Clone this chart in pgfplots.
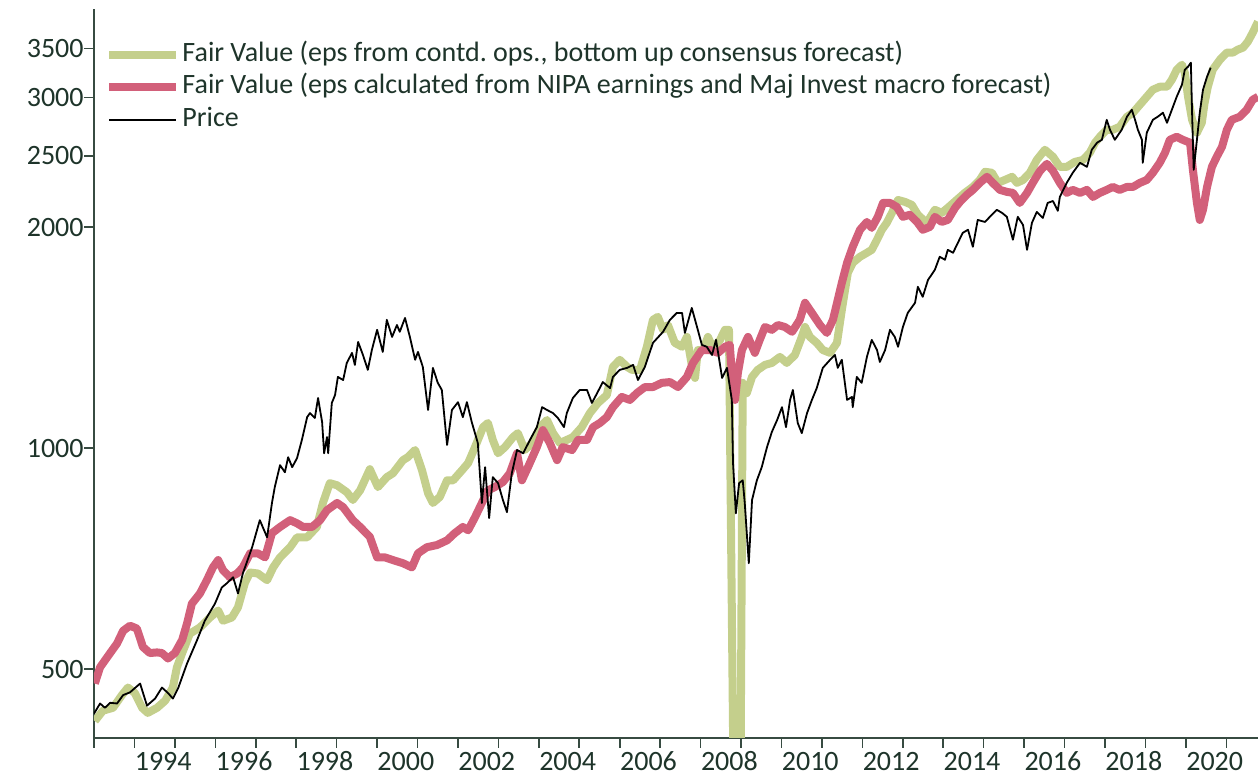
\documentclass[border=0pt]{standalone}
\usepackage{pgfplots}
\pgfplotsset{compat=1.18}
\usepackage{fontspec}
\setmainfont{Carlito}
\definecolor{fvgreen}{RGB}{196,207,140}
\definecolor{fvred}{RGB}{210,96,122}
\definecolor{axcol}{RGB}{55,75,65}
\definecolor{txtcol}{RGB}{30,52,42}
\begin{document}
\begin{tikzpicture}
\useasboundingbox (0,0) rectangle (629pt,388.5pt);
\begin{axis}[
  at={(47pt,19.5pt)}, anchor=south west,
  scale only axis, width=582pt, height=364.5pt,
  xmin=1993, xmax=2021.78,
  ymode=log, ymin=403, ymax=3963,
  axis x line=bottom, axis y line=left,
  axis line style={-, axcol, line width=0.8pt},
  tick style={axcol, line width=0.8pt},
  tick align=outside,
  major tick length=5pt,
  xtick={1993,...,2021},
  xticklabels={,1994,,1996,,1998,,2000,,2002,,2004,,2006,,2008,,2010,,2012,,2014,,2016,,2018,,2020,},
  ytick={500,1000,2000,2500,3000,3500},
  yticklabels={500,1000,2000,2500,3000,3500},
  minor tick num=0,
  xticklabel style={font=\fontsize{14}{16}\selectfont, text=txtcol, anchor=north west, inner sep=0pt, yshift=-1.75pt},
  yticklabel style={font=\fontsize{14}{16}\selectfont, text=txtcol, anchor=east, inner sep=0pt},
  /pgf/number format/assume math mode=true,
  legend style={at={(0.0095,0.959)}, anchor=north west, draw=none, fill=none,
    font=\fontsize{14}{16}\selectfont, text=txtcol, inner sep=0pt, row sep=0.75pt,
    nodes={inner sep=1pt, text height=10pt, text depth=3.5pt},
    /tikz/every even column/.append style={column sep=8.5pt}},
  legend cell align=left,
  legend image code/.code={\draw[#1] (0pt,0pt) -- (33.5pt,0pt);},
  line join=round,
]
\addplot[fvgreen, line width=4pt] coordinates {
(1993.02,425)(1993.22,439)(1993.47,443)(1993.69,461)(1993.84,472)(1994.01,464)(1994.19,443)(1994.33,436)(1994.56,443)(1994.76,453)(1994.95,472)(1995.05,503)(1995.18,526)(1995.37,559)(1995.62,570)(1995.87,588)(1996.07,601)(1996.19,582)(1996.41,588)(1996.56,607)(1996.73,655)(1996.86,677)(1997.05,675)(1997.28,661)(1997.43,688)(1997.60,710)(1997.85,733)(1998.02,756)(1998.27,756)(1998.51,781)(1998.66,842)(1998.83,896)(1999.01,890)(1999.25,871)(1999.40,850)(1999.58,876)(1999.82,936)(2000.02,885)(2000.24,913)(2000.39,924)(2000.64,963)(2000.76,972)(2000.94,994)(2001.11,933)(2001.26,868)(2001.38,842)(2001.55,858)(2001.73,904)(2001.88,904)(2002.10,933)(2002.25,954)(2002.42,1003)(2002.62,1068)(2002.74,1082)(2002.86,1026)(2002.99,984)(2003.16,1003)(2003.36,1035)(2003.48,1048)(2003.65,994)(2003.83,1016)(2004.03,1068)(2004.20,1092)(2004.35,1048)(2004.52,1016)(2004.69,1026)(2004.84,1035)(2005.06,1068)(2005.26,1116)(2005.46,1152)(2005.68,1181)(2005.83,1290)(2006.00,1319)(2006.18,1290)(2006.30,1278)(2006.50,1278)(2006.67,1374)(2006.82,1495)(2006.94,1509)(2007.07,1449)(2007.19,1471)(2007.36,1391)(2007.54,1374)(2007.66,1417)(2007.78,1298)(2007.86,1246)(2007.93,1360)(2008.06,1360)(2008.18,1417)(2008.30,1369)(2008.48,1404)(2008.60,1449)(2008.70,1449)(2008.84,250)(2008.97,250)(2009.04,1227)(2009.14,1188)(2009.27,1250)(2009.41,1278)(2009.59,1298)(2009.76,1306)(2009.96,1331)(2010.13,1306)(2010.33,1339)(2010.50,1417)(2010.58,1462)(2010.70,1417)(2010.87,1391)(2011.02,1360)(2011.20,1348)(2011.37,1391)(2011.49,1542)(2011.57,1643)(2011.64,1733)(2011.76,1788)(2011.94,1822)(2012.11,1845)(2012.23,1862)(2012.36,1922)(2012.48,1983)(2012.60,2026)(2012.73,2091)(2012.88,2177)(2013.05,2164)(2013.22,2144)(2013.37,2078)(2013.59,2026)(2013.79,2111)(2013.96,2091)(2014.11,2124)(2014.33,2177)(2014.53,2226)(2014.73,2268)(2014.90,2318)(2015.03,2378)(2015.20,2371)(2015.35,2297)(2015.52,2318)(2015.70,2341)(2015.82,2297)(2015.97,2318)(2016.14,2371)(2016.31,2468)(2016.51,2548)(2016.71,2493)(2016.88,2415)(2017.05,2415)(2017.25,2453)(2017.45,2468)(2017.62,2524)(2017.75,2605)(2017.87,2654)(2018.04,2713)(2018.19,2713)(2018.36,2739)(2018.54,2826)(2018.69,2862)(2018.86,2935)(2019.03,3009)(2019.18,3076)(2019.35,3105)(2019.53,3105)(2019.65,3174)(2019.77,3275)(2019.90,3327)(2019.97,3245)(2020.05,3009)(2020.15,2799)(2020.27,2688)(2020.39,2773)(2020.46,2953)(2020.54,3105)(2020.66,3275)(2020.84,3380)(2021.01,3456)(2021.16,3456)(2021.28,3488)(2021.41,3510)(2021.53,3577)(2021.65,3679)(2021.78,3808)
};
\addlegendentry{Fair Value (eps from contd.\ ops., bottom up consensus forecast)}
\addplot[fvred, line width=4pt] coordinates {
(1993.02,478)(1993.15,503)(1993.40,526)(1993.57,542)(1993.72,564)(1993.89,573)(1994.06,568)(1994.21,536)(1994.38,526)(1994.56,527)(1994.68,526)(1994.83,517)(1995.00,526)(1995.18,548)(1995.30,577)(1995.42,614)(1995.62,634)(1995.79,661)(1995.94,688)(1996.07,704)(1996.19,682)(1996.36,667)(1996.54,675)(1996.68,688)(1996.86,719)(1997.05,719)(1997.23,710)(1997.40,766)(1997.60,781)(1997.85,798)(1998.02,790)(1998.17,781)(1998.39,781)(1998.59,798)(1998.76,823)(1999.01,842)(1999.16,831)(1999.40,798)(1999.58,781)(1999.82,757)(2000.00,710)(2000.19,710)(2000.39,704)(2000.64,697)(2000.86,688)(2001.01,719)(2001.23,733)(2001.48,738)(2001.73,749)(2001.92,766)(2002.12,781)(2002.25,773)(2002.42,805)(2002.59,842)(2002.74,876)(2002.91,885)(2003.11,899)(2003.28,924)(2003.46,984)(2003.58,904)(2003.73,942)(2003.95,1003)(2004.10,1058)(2004.27,1016)(2004.45,963)(2004.59,1003)(2004.82,994)(2004.97,1026)(2005.19,1026)(2005.34,1068)(2005.51,1082)(2005.68,1102)(2005.83,1137)(2006.05,1174)(2006.25,1163)(2006.42,1188)(2006.62,1211)(2006.82,1211)(2007.04,1227)(2007.24,1230)(2007.44,1211)(2007.66,1250)(2007.81,1306)(2008.03,1360)(2008.23,1360)(2008.43,1348)(2008.60,1374)(2008.72,1382)(2008.77,1266)(2008.85,1163)(2008.92,1266)(2009.02,1360)(2009.17,1417)(2009.34,1348)(2009.46,1404)(2009.59,1462)(2009.76,1449)(2009.91,1471)(2010.08,1462)(2010.26,1440)(2010.45,1495)(2010.58,1577)(2010.75,1528)(2010.95,1471)(2011.12,1435)(2011.27,1495)(2011.39,1592)(2011.49,1679)(2011.62,1788)(2011.76,1880)(2011.94,1983)(2012.11,2032)(2012.23,1995)(2012.38,2065)(2012.51,2157)(2012.68,2157)(2012.85,2130)(2013.00,2065)(2013.17,2078)(2013.35,2032)(2013.49,1983)(2013.67,2001)(2013.79,2065)(2013.96,2032)(2014.11,2045)(2014.29,2124)(2014.41,2164)(2014.58,2212)(2014.73,2247)(2014.90,2297)(2015.08,2341)(2015.22,2297)(2015.40,2247)(2015.57,2233)(2015.72,2226)(2015.89,2157)(2016.07,2226)(2016.21,2297)(2016.39,2385)(2016.56,2438)(2016.71,2385)(2016.88,2297)(2017.05,2226)(2017.20,2247)(2017.38,2226)(2017.55,2247)(2017.70,2198)(2017.87,2226)(2018.04,2247)(2018.19,2268)(2018.36,2247)(2018.54,2268)(2018.69,2268)(2018.86,2297)(2019.03,2318)(2019.18,2371)(2019.35,2446)(2019.48,2524)(2019.60,2629)(2019.77,2654)(2019.92,2629)(2020.10,2605)(2020.17,2393)(2020.27,2157)(2020.34,2045)(2020.42,2111)(2020.52,2268)(2020.64,2415)(2020.76,2493)(2020.89,2572)(2021.01,2713)(2021.13,2799)(2021.33,2826)(2021.50,2889)(2021.65,2981)(2021.78,3009)
};
\addlegendentry{Fair Value (eps calculated from NIPA earnings and Maj Invest macro forecast)}
\addplot[black, line width=0.9pt] coordinates {
(1993.00,435)(1993.15,449)(1993.27,443)(1993.40,450)(1993.57,449)(1993.72,461)(1993.89,465)(1994.14,478)(1994.31,446)(1994.51,456)(1994.68,472)(1994.83,464)(1994.95,456)(1995.08,471)(1995.30,509)(1995.55,548)(1995.74,582)(1995.99,614)(1996.16,646)(1996.29,655)(1996.44,667)(1996.56,634)(1996.68,675)(1996.91,733)(1997.10,798)(1997.28,756)(1997.40,842)(1997.47,885)(1997.60,948)(1997.72,927)(1997.80,972)(1997.90,942)(1998.02,969)(1998.14,1026)(1998.27,1102)(1998.34,1116)(1998.46,1099)(1998.54,1170)(1998.64,1085)(1998.69,984)(1998.76,1035)(1998.79,984)(1998.88,1152)(1998.96,1181)(1999.03,1250)(1999.16,1238)(1999.25,1306)(1999.38,1348)(1999.45,1298)(1999.53,1395)(1999.65,1339)(1999.77,1278)(1999.87,1360)(2000.00,1449)(2000.14,1352)(2000.24,1495)(2000.37,1417)(2000.49,1471)(2000.56,1440)(2000.69,1504)(2000.81,1417)(2000.94,1319)(2001.01,1352)(2001.13,1290)(2001.26,1127)(2001.38,1286)(2001.50,1227)(2001.60,1200)(2001.73,1010)(2001.85,1127)(2002.00,1155)(2002.12,1102)(2002.22,1155)(2002.34,1085)(2002.49,1016)(2002.59,842)(2002.67,942)(2002.77,803)(2002.86,913)(2002.99,896)(2003.11,850)(2003.21,818)(2003.33,924)(2003.46,994)(2003.61,984)(2003.78,1026)(2003.95,1068)(2004.08,1137)(2004.20,1127)(2004.35,1116)(2004.47,1099)(2004.62,1068)(2004.69,1116)(2004.84,1170)(2005.01,1200)(2005.19,1200)(2005.31,1152)(2005.44,1188)(2005.58,1230)(2005.76,1207)(2005.83,1250)(2006.00,1278)(2006.18,1286)(2006.33,1298)(2006.45,1238)(2006.62,1290)(2006.82,1391)(2007.07,1440)(2007.24,1495)(2007.41,1528)(2007.54,1528)(2007.61,1435)(2007.78,1552)(2007.91,1462)(2008.03,1382)(2008.15,1374)(2008.28,1339)(2008.38,1404)(2008.53,1246)(2008.65,1286)(2008.77,1163)(2008.80,954)(2008.87,815)(2008.95,896)(2009.04,904)(2009.09,842)(2009.19,697)(2009.27,850)(2009.39,904)(2009.51,942)(2009.64,1003)(2009.76,1052)(2009.89,1092)(2010.01,1137)(2010.11,1068)(2010.21,1163)(2010.28,1200)(2010.40,1082)(2010.50,1048)(2010.63,1116)(2010.75,1163)(2010.87,1207)(2011.02,1286)(2011.20,1319)(2011.32,1339)(2011.39,1286)(2011.49,1319)(2011.62,1163)(2011.74,1174)(2011.76,1137)(2011.86,1250)(2011.98,1227)(2012.11,1331)(2012.23,1404)(2012.36,1360)(2012.43,1310)(2012.56,1360)(2012.68,1449)(2012.80,1417)(2012.88,1374)(2013.00,1462)(2013.12,1528)(2013.30,1577)(2013.37,1658)(2013.49,1607)(2013.62,1694)(2013.79,1749)(2013.91,1822)(2014.04,1805)(2014.11,1862)(2014.24,1845)(2014.36,1904)(2014.48,1964)(2014.61,1983)(2014.73,1880)(2014.85,2045)(2015.03,2032)(2015.15,2065)(2015.32,2111)(2015.45,2091)(2015.57,2065)(2015.72,1922)(2015.84,2065)(2015.97,2013)(2016.07,1862)(2016.19,2026)(2016.31,2097)(2016.46,2058)(2016.58,2157)(2016.71,2170)(2016.83,2104)(2016.88,2198)(2017.05,2297)(2017.20,2371)(2017.38,2446)(2017.55,2415)(2017.67,2548)(2017.80,2605)(2017.92,2629)(2018.04,2799)(2018.12,2713)(2018.24,2629)(2018.41,2713)(2018.54,2826)(2018.66,2889)(2018.74,2799)(2018.81,2713)(2018.91,2629)(2018.93,2446)(2019.03,2688)(2019.18,2799)(2019.30,2826)(2019.43,2862)(2019.53,2773)(2019.65,2889)(2019.77,3009)(2019.90,3125)(2019.97,3275)(2020.05,3306)(2020.12,3348)(2020.15,2862)(2020.19,2393)(2020.27,2629)(2020.34,2862)(2020.42,3076)(2020.52,3204)(2020.61,3296)
};
\addlegendentry{Price}
\end{axis}
\end{tikzpicture}
\end{document}
